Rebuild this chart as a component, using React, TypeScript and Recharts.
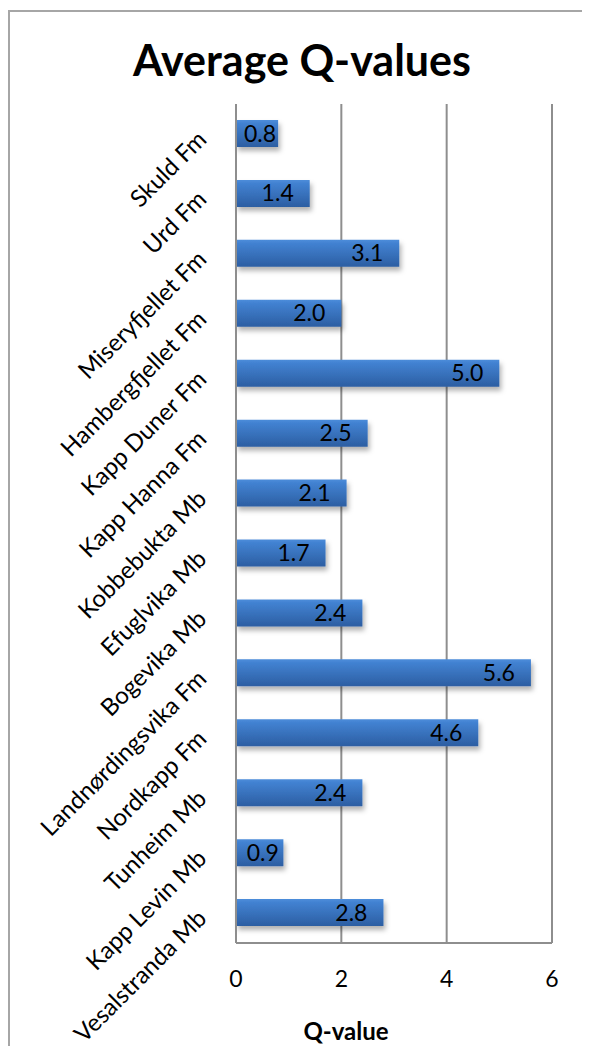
import { BarChart, Bar, XAxis, YAxis, CartesianGrid, LabelList } from "recharts"

const units = [
    "Skuld Fm",
    "Urd Fm",
    "Miseryfjellet Fm",
    "Hambergfjellet Fm",
    "Kapp Duner Fm",
    "Kapp Hanna Fm",
    "Kobbebukta Mb",
    "Efuglvika Mb",
    "Bogevika Mb",
    "Landnørdingsvika Fm",
    "Nordkapp Fm",
    "Tunheim Mb",
    "Kapp Levin Mb",
    "Vesalstranda Mb",
]

const qValues = [0.8, 1.4, 3.1, 2.0, 5.0, 2.5, 2.1, 1.7, 2.4, 5.6, 4.6, 2.4, 0.9, 2.8]

const xTicks = [0, 2, 4, 6]

const data = units.map((name, i) => ({ name, q: qValues[i] }))

const FONT = "Lato, 'Open Sans', sans-serif"
const GRID = "#8e8e8e"
const FRAME = "#a6a6a6"

function UnitTick(props: any) {
    const { x, y, payload } = props
    if (x == null || y == null || !payload) return null
    const ax = x - 20
    const ay = y + 7
    return (
        <text
            x={ax}
            y={ay}
            textAnchor="end"
            fontSize={24}
            fontFamily={FONT}
            fill="#000"
            transform={`rotate(-45, ${ax}, ${ay})`}
        >
            {payload.value}
        </text>
    )
}

function ValueLabel(props: any) {
    const { x, y, width, height, value } = props
    if (x == null || y == null || width == null || height == null) return null
    const txt = Number(value).toFixed(1)
    const textW = 34
    const pad = 16
    const small = width < textW + pad * 2
    return (
        <text
            x={small ? x + width / 2 + 3 : x + width - pad}
            y={y + height / 2 + 8}
            textAnchor={small ? "middle" : "end"}
            fontSize={23}
            fontFamily={FONT}
            fill="#000"
        >
            {txt}
        </text>
    )
}

export default function App() {
    return (
        <div style={{ position: "relative", width: 574, height: 1038 }}>
            <div
                style={{
                    position: "absolute",
                    left: -8,
                    top: -8,
                    width: 590,
                    height: 1054,
                    overflow: "hidden",
                }}
            >
                {/* chart frame: only left and top edges are in view */}
                <div style={{ position: "absolute", left: 8, top: 10, width: 2, height: 1044, background: FRAME }} />
                <div style={{ position: "absolute", left: 8, top: 10, width: 582, height: 2, background: FRAME }} />
                <BarChart
                    width={590}
                    height={1054}
                    data={data}
                    layout="vertical"
                    margin={{ top: 104, right: 38, bottom: 51, left: 0 }}
                    barSize={27}
                >
                    <defs>
                        <linearGradient id="barFill" x1="0" y1="0" x2="0" y2="1">
                            <stop offset="0%" stopColor="#4d8dda" />
                            <stop offset="12%" stopColor="#4282d2" />
                            <stop offset="100%" stopColor="#2c5ea2" />
                        </linearGradient>
                        <filter id="barShadow" x="-10%" y="-30%" width="130%" height="180%">
                            <feDropShadow dx="2" dy="4" stdDeviation="2.5" floodColor="#000" floodOpacity="0.3" />
                        </filter>
                    </defs>
                    <CartesianGrid horizontal={false} stroke={GRID} strokeWidth={2} />
                    <XAxis
                        type="number"
                        domain={[0, 6]}
                        ticks={xTicks}
                        tickLine={false}
                        axisLine={{ stroke: GRID, strokeWidth: 2 }}
                        tickMargin={22}
                        height={60}
                        tick={{ fontSize: 23, fontFamily: FONT, fill: "#000" }}
                    />
                    <YAxis
                        type="category"
                        dataKey="name"
                        width={236}
                        tickLine={false}
                        axisLine={{ stroke: GRID, strokeWidth: 2 }}
                        tick={<UnitTick />}
                        interval={0}
                    />
                    <Bar
                        dataKey="q"
                        fill="url(#barFill)"
                        filter="url(#barShadow)"
                        isAnimationActive={false}
                    >
                        <LabelList dataKey="q" content={<ValueLabel />} />
                    </Bar>
                </BarChart>
                <div
                    style={{
                        position: "absolute",
                        left: 0,
                        top: 38,
                        width: 590,
                        paddingLeft: 14,
                        boxSizing: "border-box",
                        textAlign: "center",
                        fontFamily: FONT,
                        fontWeight: "bold",
                        fontSize: 43,
                        lineHeight: 1,
                        color: "#000",
                        whiteSpace: "nowrap",
                    }}
                >
                    Average Q-values
                </div>
                <div
                    style={{
                        position: "absolute",
                        left: 346 - 70,
                        top: 1019,
                        width: 140,
                        textAlign: "center",
                        fontFamily: FONT,
                        fontWeight: "bold",
                        fontSize: 24,
                        lineHeight: 1,
                        color: "#000",
                    }}
                >
                    Q-value
                </div>
            </div>
        </div>
    )
}
